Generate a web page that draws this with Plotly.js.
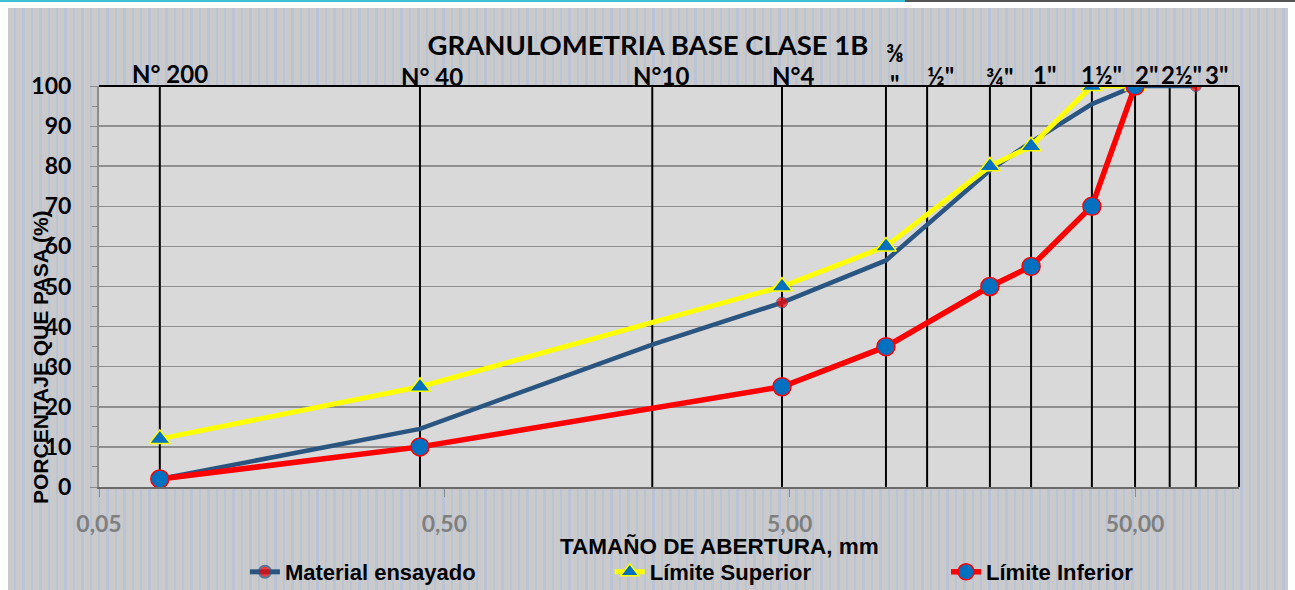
<!DOCTYPE html>
<html>
<head>
<meta charset="utf-8">
<script src="https://cdn.plot.ly/plotly-3.0.1.min.js"></script>
<style>
  html, body { margin: 0; padding: 0; background: #ffffff; width: 1295px; height: 590px; overflow: hidden; }
  #topline1 { position: absolute; left: 0; top: 0; width: 905px; height: 2px; background: #3bbfd2; }
  #topline2 { position: absolute; left: 905px; top: 0; width: 390px; height: 2px; background: #555555; }
  #chart {
    position: absolute; left: 8px; top: 8px; width: 1280px; height: 582px;
    background: repeating-linear-gradient(90deg, #cacaca 0px, #cacaca 6px, #bac4d6 6px, #bac4d6 8.4px);
  }
</style>
</head>
<body>
<div id="topline1"></div><div id="topline2"></div>
<div id="chart"></div>
<script>
// ---- data ----
const sieveLabels = ['N° 200', 'N° 40', 'N°10', 'N°4', '⅜<br>"', '½"', '¾"', '1"', '1½"', '2"', '2½"', '3"'];
const sieveSizes  = [0.075, 0.425, 2.0, 4.75, 9.5, 12.5, 19, 25, 37.5, 50, 63, 75];

const materialSizes = [0.075, 0.425, 2.0, 4.75, 9.5, 19, 25, 37.5, 50, 75];
const materialPass  = [2, 14.5, 35.5, 46, 56.5, 79, 86, 95.5, 100, 100];

const upperSizes = [0.075, 0.425, 4.75, 9.5, 19, 25, 37.5, 50];
const upperPass  = [12, 25, 50, 60, 80, 85, 100, 100];

const lowerSizes = [0.075, 0.425, 4.75, 9.5, 19, 25, 37.5, 50];
const lowerPass  = [2, 10, 25, 35, 50, 55, 70, 100];

const xTickVals = [0.05, 0.5, 5, 50];
const xTickText = ['0,05', '0,50', '5,00', '50,00'];

// ---- styles ----
const materialMarkerSizes = [0, 0, 0, 11, 0, 0, 0, 0, 0, 11];
const labelXShift = [10, 12, 9, 11, 9, 13, 10, 13, 10, 11, 12, 21];
const labelYShift = [13, 10, 11, 11, 18, 11, 10, 12, 12, 12, 12, 12];

const calibri = 'Lato, "Open Sans", sans-serif';
const arial = '"Liberation Sans", Arial, sans-serif';

// vertical sieve lines
const vx = [], vy = [];
sieveSizes.forEach(d => { vx.push(d, d, null); vy.push(0, 100, null); });

const traces = [
  { x: vx, y: vy, mode: 'lines', line: { color: '#000000', width: 2 },
    showlegend: false, hoverinfo: 'skip' },
  { x: materialSizes, y: materialPass, name: 'Material ensayado', mode: 'lines+markers',
    line: { color: '#2a5580', width: 4.5 },
    marker: { symbol: 'circle', size: materialMarkerSizes, color: '#ff0000', line: { color: '#2a5580', width: 1 } },
    legend: 'legend' },
  { x: upperSizes, y: upperPass, name: 'Límite Superior', mode: 'lines+markers',
    line: { color: '#ffff00', width: 5 },
    marker: { symbol: 'triangle-up', size: 18, color: '#0070c0', line: { color: '#ffff00', width: 1.5 } },
    legend: 'legend2' },
  { x: lowerSizes, y: lowerPass, name: 'Límite Inferior', mode: 'lines+markers',
    line: { color: '#ff0000', width: 5.5 },
    marker: { symbol: 'circle', size: 18, color: '#0070c0', line: { color: '#ff0000', width: 1.5 } },
    legend: 'legend3' }
];

const annotations = sieveLabels.map((t, i) => ({
  x: Math.log10(sieveSizes[i]), y: 100, xref: 'x', yref: 'y',
  text: t, showarrow: false, xanchor: 'center', yanchor: 'middle',
  xshift: labelXShift[i], yshift: labelYShift[i],
  font: { family: calibri, size: 24, color: '#000000', weight: 'bold' }
}));
annotations.push({
  x: 0.544, y: -0.148, xref: 'paper', yref: 'paper', showarrow: false,
  text: 'TAMAÑO DE ABERTURA, mm', xanchor: 'center', yanchor: 'middle',
  font: { family: arial, size: 22.5, color: '#000000', weight: 'bold' }
});
annotations.push({
  x: -0.0518, y: 0.324, xref: 'paper', yref: 'paper', showarrow: false,
  text: 'PORCENTAJE QUE PASA (%)', textangle: -90, xanchor: 'center', yanchor: 'middle',
  font: { family: arial, size: 21, color: '#000000', weight: 'bold' }
});

const legendFont = { family: arial, size: 22, color: '#000000', weight: 'bold' };
const legendBase = { orientation: 'h', xanchor: 'left', yanchor: 'middle', y: -0.212,
  bgcolor: 'rgba(0,0,0,0)', font: legendFont };

const layout = {
  width: 1280, height: 582,
  margin: { l: 91, r: 49, t: 78, b: 103, autoexpand: false },
  paper_bgcolor: 'rgba(0,0,0,0)',
  plot_bgcolor: '#d9d9d9',
  title: { text: 'GRANULOMETRIA BASE CLASE 1B', xref: 'container', x: 0.5, xanchor: 'center',
    yref: 'container', y: 0.935, yanchor: 'middle',
    font: { family: calibri, size: 27.5, color: '#000000', weight: 'bold' } },
  xaxis: {
    type: 'log', range: [Math.log10(0.05), 2],
    tickvals: xTickVals, ticktext: xTickText,
    tickfont: { family: calibri, size: 23, color: '#7f7f7f', weight: 'bold' },
    ticks: 'outside', ticklen: 8, tickcolor: '#8c8c8c', tickwidth: 1,
    ticklabelstandoff: 7,
    showgrid: false, zeroline: false,
    showline: true, linecolor: '#6a6a6a', linewidth: 2
  },
  yaxis: {
    range: [0, 100], dtick: 10, tick0: 0,
    tickfont: { family: calibri, size: 23, color: '#000000', weight: 'bold' },
    ticks: 'outside', ticklen: 7, tickcolor: '#8c8c8c', tickwidth: 1,
    ticklabelstandoff: 14,
    minor: { dtick: 5, ticks: 'outside', ticklen: 5, tickcolor: '#8c8c8c', showgrid: false },
    showgrid: true, gridcolor: '#8f8f8f', gridwidth: 1.5,
    zeroline: false, showline: true, linecolor: '#8c8c8c', linewidth: 2
  },
  shapes: [
    { type: 'line', xref: 'paper', yref: 'paper', x0: 0, x1: 1, y0: 1, y1: 1, line: { color: '#000000', width: 2 } },
    { type: 'line', xref: 'paper', yref: 'paper', x0: 1, x1: 1, y0: 0, y1: 1, line: { color: '#000000', width: 2 } }
  ],
  legend: Object.assign({}, legendBase, { x: 0.128, itemsizing: 'constant' }),
  legend2: Object.assign({}, legendBase, { x: 0.448, itemsizing: 'trace' }),
  legend3: Object.assign({}, legendBase, { x: 0.743, itemsizing: 'trace' }),
  annotations: annotations,
  showlegend: true
};

Plotly.newPlot('chart', traces, layout, { displayModeBar: false, staticPlot: true });
</script>
</body>
</html>
